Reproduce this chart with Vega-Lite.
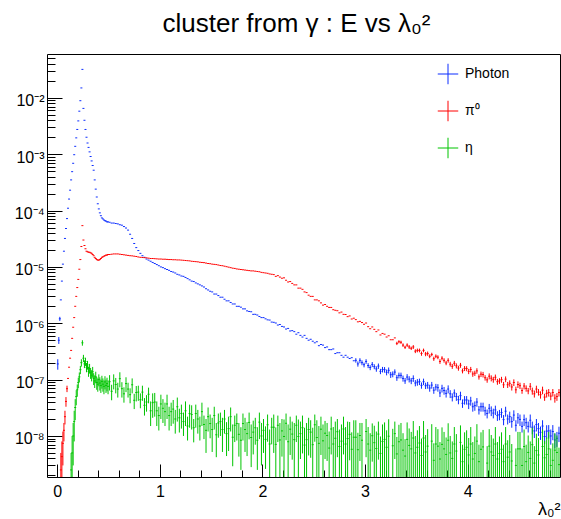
{
"$schema": "https://vega.github.io/schema/vega-lite/v6.json",
"width": 513, "height": 423,
"autosize": {"type": "none"},
"padding": {"left": 47, "top": 54, "right": 1, "bottom": 42},
"background": "#ffffff",
"view": {"stroke": "#000000", "strokeWidth": 1, "fill": "#ffffff"},
"title": {"text": "cluster from γ : E vs λ₀²", "font": "Liberation Sans", "fontSize": 26, "fontWeight": "normal", "color": "#000000", "anchor": "middle", "frame": "group", "offset": 21, "baseline": "alphabetic", "dx": -7, "dy": 25},
"datasets": {
"ph": [
{"x":0.005,"y":1.9e-7,"lo":1.5e-7,"hi":2.3e-7},{"x":0.015,"y":5.0e-7,"lo":4.3e-7,"hi":5.7e-7},{"x":0.025,"y":1.2e-6,"lo":1.1e-6,"hi":1.3e-6},{"x":0.035,"y":2.6e-6},{"x":0.045,"y":5.6e-6},{"x":0.055,"y":1.12e-5},{"x":0.065,"y":1.9e-5},{"x":0.075,"y":3.2e-5},{"x":0.085,"y":4.8e-5},{"x":0.095,"y":7.2e-5},{"x":0.105,"y":1.1e-4},{"x":0.115,"y":1.6e-4},{"x":0.125,"y":2.3e-4},{"x":0.135,"y":3.5e-4},{"x":0.145,"y":4.9e-4},{"x":0.155,"y":6.9e-4},{"x":0.165,"y":9.8e-4},{"x":0.175,"y":1.38e-3},{"x":0.185,"y":1.95e-3},{"x":0.195,"y":2.75e-3},{"x":0.205,"y":3.9e-3},{"x":0.215,"y":5.8e-3},{"x":0.225,"y":8.9e-3},{"x":0.235,"y":1.5e-2},{"x":0.245,"y":3.2e-2},{"x":0.255,"y":6.5e-3},{"x":0.265,"y":4.0e-3},{"x":0.275,"y":2.75e-3},{"x":0.285,"y":2.0e-3},{"x":0.295,"y":1.58e-3},{"x":0.305,"y":1.32e-3},{"x":0.315,"y":1.1e-3},{"x":0.325,"y":9.1e-4},{"x":0.335,"y":7.6e-4},{"x":0.345,"y":6.3e-4},{"x":0.355,"y":5.2e-4},{"x":0.365,"y":3.5e-4},{"x":0.375,"y":2.4e-4},{"x":0.385,"y":1.74e-4},{"x":0.395,"y":1.32e-4},{"x":0.405,"y":1.07e-4},{"x":0.415,"y":9.1e-5},{"x":0.425,"y":8.1e-5},{"x":0.435,"y":7.4e-5},{"x":0.445,"y":7.1e-5},{"x":0.455,"y":6.8e-5},{"x":0.465,"y":6.6e-5},{"x":0.475,"y":6.5e-5},{"x":0.485,"y":6.3e-5},{"x":0.495,"y":6.3e-5},
{"x":0.51,"y":6.2e-5},{"x":0.53,"y":6.0e-5},{"x":0.55,"y":6.0e-5},{"x":0.57,"y":5.9e-5},{"x":0.59,"y":5.8e-5},{"x":0.61,"y":5.6e-5},{"x":0.63,"y":5.5e-5},{"x":0.65,"y":5.2e-5},{"x":0.67,"y":4.9e-5},{"x":0.69,"y":4.5e-5},{"x":0.71,"y":3.8e-5},{"x":0.73,"y":3.2e-5},{"x":0.75,"y":2.6e-5},{"x":0.77,"y":2.2e-5},{"x":0.79,"y":1.95e-5},{"x":0.81,"y":1.74e-5},{"x":0.83,"y":1.58e-5},{"x":0.85,"y":1.48e-5},{"x":0.87,"y":1.38e-5},{"x":0.89,"y":1.32e-5},{"x":0.91,"y":1.26e-5},{"x":0.93,"y":1.2e-5},{"x":0.95,"y":1.15e-5},{"x":0.97,"y":1.1e-5},{"x":0.99,"y":1.05e-5},{"x":1.01,"y":1.0e-5},{"x":1.03,"y":9.7e-6},{"x":1.05,"y":9.3e-6},{"x":1.07,"y":9.0e-6},{"x":1.09,"y":8.7e-6},{"x":1.11,"y":8.3e-6},{"x":1.13,"y":8.1e-6},{"x":1.15,"y":7.8e-6},{"x":1.17,"y":7.4e-6},{"x":1.19,"y":7.2e-6},{"x":1.21,"y":6.9e-6},{"x":1.23,"y":6.8e-6},{"x":1.25,"y":6.5e-6},{"x":1.27,"y":6.2e-6},{"x":1.29,"y":5.9e-6},{"x":1.31,"y":5.6e-6},{"x":1.33,"y":5.5e-6},{"x":1.35,"y":5.2e-6},{"x":1.37,"y":5.0e-6},{"x":1.39,"y":4.8e-6},{"x":1.41,"y":4.6e-6},{"x":1.43,"y":4.4e-6},{"x":1.45,"y":4.1e-6},{"x":1.47,"y":3.9e-6},{"x":1.49,"y":3.7e-6},
{"x":1.51,"y":3.6e-6},{"x":1.53,"y":3.3e-6},{"x":1.55,"y":3.3e-6},{"x":1.57,"y":3.1e-6},{"x":1.59,"y":2.9e-6},{"x":1.61,"y":2.9e-6},{"x":1.63,"y":2.67e-6},{"x":1.65,"y":2.5e-6},{"x":1.67,"y":2.5e-6},{"x":1.69,"y":2.34e-6},{"x":1.71,"y":2.2e-6},{"x":1.73,"y":2.2e-6},{"x":1.75,"y":2.0e-6},{"x":1.77,"y":2.0e-6},{"x":1.79,"y":1.93e-6},{"x":1.81,"y":1.8e-6},{"x":1.83,"y":1.8e-6},{"x":1.85,"y":1.66e-6},{"x":1.87,"y":1.62e-6},{"x":1.89,"y":1.6e-6},{"x":1.91,"y":1.44e-6},{"x":1.93,"y":1.44e-6},{"x":1.95,"y":1.4e-6},{"x":1.97,"y":1.32e-6},{"x":1.99,"y":1.26e-6},{"x":2.01,"y":1.26e-6},{"x":2.03,"y":1.2e-6},{"x":2.05,"y":1.15e-6},{"x":2.07,"y":1.14e-6},{"x":2.09,"y":1.05e-6},{"x":2.11,"y":1.04e-6},{"x":2.13,"y":1.01e-6},{"x":2.15,"y":9.3e-7},{"x":2.17,"y":9.5e-7},{"x":2.19,"y":8.8e-7},{"x":2.21,"y":8.6e-7},{"x":2.23,"y":7.9e-7},{"x":2.25,"y":8.1e-7},{"x":2.27,"y":7.3e-7},{"x":2.29,"y":7.4e-7},
{"x":2.31,"y":7.1e-7},{"x":2.33,"y":6.4e-7},{"x":2.35,"y":6.8e-7},{"x":2.37,"y":6.1e-7},{"x":2.39,"y":5.7e-7},{"x":2.41,"y":6.1e-7},{"x":2.43,"y":5.4e-7},{"x":2.45,"y":5.0e-7},{"x":2.47,"y":5.2e-7},{"x":2.49,"y":4.8e-7},{"x":2.51,"y":4.5e-7},{"x":2.53,"y":4.7e-7},{"x":2.55,"y":4.0e-7},{"x":2.57,"y":4.2e-7},{"x":2.59,"y":4.1e-7},{"x":2.61,"y":3.7e-7},{"x":2.63,"y":3.8e-7},{"x":2.65,"y":3.4e-7},{"x":2.67,"y":3.4e-7},{"x":2.69,"y":3.5e-7},{"x":2.71,"y":2.9e-7},{"x":2.73,"y":3.0e-7},{"x":2.75,"y":3.0e-7},{"x":2.77,"y":2.7e-7},{"x":2.79,"y":2.5e-7},{"x":2.81,"y":2.7e-7},{"x":2.83,"y":2.5e-7},{"x":2.85,"y":2.37e-7},{"x":2.87,"y":2.45e-7},{"x":2.89,"y":2.16e-7},
{"x":2.91,"y":2.2e-7,"lo":2.0e-7,"hi":2.4e-7},{"x":2.93,"y":1.9e-7,"lo":1.7e-7,"hi":2.1e-7},{"x":2.95,"y":2.2e-7,"lo":1.95e-7,"hi":2.4e-7},{"x":2.97,"y":2.0e-7,"lo":1.8e-7,"hi":2.2e-7},{"x":2.99,"y":1.84e-7,"lo":1.65e-7,"hi":2.0e-7},{"x":3.01,"y":2.1e-7,"lo":1.9e-7,"hi":2.3e-7},{"x":3.03,"y":1.78e-7,"lo":1.6e-7,"hi":1.96e-7},{"x":3.05,"y":1.64e-7,"lo":1.47e-7,"hi":1.8e-7},{"x":3.07,"y":1.86e-7,"lo":1.67e-7,"hi":2.05e-7},{"x":3.09,"y":1.7e-7,"lo":1.53e-7,"hi":1.87e-7},{"x":3.11,"y":1.55e-7,"lo":1.38e-7,"hi":1.72e-7},{"x":3.13,"y":1.74e-7,"lo":1.55e-7,"hi":1.93e-7},{"x":3.15,"y":1.4e-7,"lo":1.25e-7,"hi":1.55e-7},{"x":3.17,"y":1.51e-7,"lo":1.34e-7,"hi":1.68e-7},{"x":3.19,"y":1.5e-7,"lo":1.33e-7,"hi":1.67e-7},{"x":3.21,"y":1.35e-7,"lo":1.19e-7,"hi":1.51e-7},{"x":3.23,"y":1.46e-7,"lo":1.28e-7,"hi":1.64e-7},{"x":3.25,"y":1.22e-7,"lo":1.07e-7,"hi":1.37e-7},{"x":3.27,"y":1.25e-7,"lo":1.1e-7,"hi":1.4e-7},{"x":3.29,"y":1.36e-7,"lo":1.2e-7,"hi":1.52e-7},{"x":3.31,"y":1.08e-7,"lo":9.5e-8,"hi":1.21e-7},{"x":3.33,"y":1.19e-7,"lo":1.05e-7,"hi":1.33e-7},{"x":3.35,"y":1.19e-7,"lo":1.05e-7,"hi":1.33e-7},{"x":3.37,"y":1.05e-7,"lo":9.2e-8,"hi":1.18e-7},{"x":3.39,"y":9.5e-8,"lo":8.4e-8,"hi":1.07e-7},{"x":3.41,"y":1.11e-7,"lo":9.7e-8,"hi":1.25e-7},{"x":3.43,"y":1.02e-7,"lo":8.9e-8,"hi":1.15e-7},{"x":3.45,"y":9.5e-8,"lo":8.3e-8,"hi":1.07e-7},{"x":3.47,"y":1.05e-7,"lo":9.1e-8,"hi":1.19e-7},{"x":3.49,"y":8.7e-8,"lo":7.6e-8,"hi":9.8e-8},{"x":3.51,"y":9.0e-8,"lo":7.8e-8,"hi":1.02e-7},{"x":3.53,"y":9.2e-8,"lo":8.0e-8,"hi":1.04e-7},{"x":3.55,"y":7.9e-8,"lo":6.9e-8,"hi":8.9e-8},{"x":3.57,"y":9.2e-8,"lo":8.0e-8,"hi":1.04e-7},{"x":3.59,"y":7.8e-8,"lo":6.8e-8,"hi":8.8e-8},{"x":3.61,"y":8.0e-8,"lo":6.9e-8,"hi":9.1e-8},{"x":3.63,"y":7.1e-8,"lo":6.1e-8,"hi":8.1e-8},{"x":3.65,"y":8.0e-8,"lo":6.9e-8,"hi":9.1e-8},{"x":3.67,"y":6.5e-8,"lo":5.6e-8,"hi":7.4e-8},{"x":3.69,"y":7.4e-8,"lo":6.4e-8,"hi":8.4e-8},
{"x":3.71,"y":7.2e-8,"lo":6.1e-8,"hi":8.3e-8},{"x":3.73,"y":5.8e-8,"lo":4.9e-8,"hi":6.7e-8},{"x":3.75,"y":7.0e-8,"lo":5.9e-8,"hi":8.1e-8},{"x":3.77,"y":6.4e-8,"lo":5.4e-8,"hi":7.4e-8},{"x":3.79,"y":5.7e-8,"lo":4.8e-8,"hi":6.6e-8},{"x":3.81,"y":6.8e-8,"lo":5.7e-8,"hi":7.9e-8},{"x":3.83,"y":5.6e-8,"lo":4.7e-8,"hi":6.5e-8},{"x":3.85,"y":4.9e-8,"lo":4.1e-8,"hi":5.7e-8},{"x":3.87,"y":5.8e-8,"lo":4.9e-8,"hi":6.7e-8},{"x":3.89,"y":5.0e-8,"lo":4.2e-8,"hi":5.8e-8},{"x":3.91,"y":4.4e-8,"lo":3.65e-8,"hi":5.15e-8},{"x":3.93,"y":5.2e-8,"lo":4.3e-8,"hi":6.1e-8},{"x":3.95,"y":3.8e-8,"lo":3.15e-8,"hi":4.45e-8},{"x":3.97,"y":4.35e-8,"lo":3.6e-8,"hi":5.1e-8},{"x":3.99,"y":4.35e-8,"lo":3.6e-8,"hi":5.1e-8},{"x":4.01,"y":3.7e-8,"lo":3.0e-8,"hi":4.4e-8},{"x":4.03,"y":4.2e-8,"lo":3.45e-8,"hi":4.95e-8},{"x":4.05,"y":3.3e-8,"lo":2.7e-8,"hi":3.9e-8},{"x":4.07,"y":3.45e-8,"lo":2.8e-8,"hi":4.1e-8},{"x":4.09,"y":4.0e-8,"lo":3.3e-8,"hi":4.7e-8},{"x":4.11,"y":2.9e-8,"lo":2.4e-8,"hi":3.4e-8},{"x":4.13,"y":3.3e-8,"lo":2.7e-8,"hi":3.9e-8},{"x":4.15,"y":3.3e-8,"lo":2.7e-8,"hi":3.9e-8},{"x":4.17,"y":2.8e-8,"lo":2.3e-8,"hi":3.3e-8},{"x":4.19,"y":2.5e-8,"lo":2.05e-8,"hi":2.95e-8},{"x":4.21,"y":3.1e-8,"lo":2.5e-8,"hi":3.7e-8},{"x":4.23,"y":2.8e-8,"lo":2.25e-8,"hi":3.35e-8},{"x":4.25,"y":2.55e-8,"lo":2.05e-8,"hi":3.05e-8},{"x":4.27,"y":2.9e-8,"lo":2.35e-8,"hi":3.45e-8},{"x":4.29,"y":2.3e-8,"lo":1.85e-8,"hi":2.75e-8},
{"x":4.31,"y":2.4e-8,"lo":1.9e-8,"hi":2.9e-8},{"x":4.33,"y":2.6e-8,"lo":2.1e-8,"hi":3.1e-8},{"x":4.35,"y":1.95e-8,"lo":1.55e-8,"hi":2.35e-8},{"x":4.37,"y":2.75e-8,"lo":2.2e-8,"hi":3.3e-8},{"x":4.39,"y":2.0e-8,"lo":1.6e-8,"hi":2.4e-8},{"x":4.41,"y":2.2e-8,"lo":1.7e-8,"hi":2.7e-8},{"x":4.43,"y":1.8e-8,"lo":1.4e-8,"hi":2.2e-8},{"x":4.45,"y":2.35e-8,"lo":1.85e-8,"hi":2.85e-8},{"x":4.47,"y":1.55e-8,"lo":1.2e-8,"hi":1.9e-8},{"x":4.49,"y":2.1e-8,"lo":1.65e-8,"hi":2.55e-8},{"x":4.51,"y":1.97e-8,"lo":1.5e-8,"hi":2.4e-8},{"x":4.53,"y":1.48e-8,"lo":1.15e-8,"hi":1.8e-8},{"x":4.55,"y":1.95e-8,"lo":1.5e-8,"hi":2.4e-8},{"x":4.57,"y":1.72e-8,"lo":1.32e-8,"hi":2.1e-8},{"x":4.59,"y":1.48e-8,"lo":1.15e-8,"hi":1.8e-8},{"x":4.61,"y":1.9e-8,"lo":1.4e-8,"hi":2.4e-8},{"x":4.63,"y":1.43e-8,"lo":1.07e-8,"hi":1.8e-8},{"x":4.65,"y":1.23e-8,"lo":9.2e-9,"hi":1.54e-8},{"x":4.67,"y":1.6e-8,"lo":1.2e-8,"hi":2.0e-8},{"x":4.69,"y":1.35e-8,"lo":1.0e-8,"hi":1.7e-8},{"x":4.71,"y":1.16e-8,"lo":8.5e-9,"hi":1.47e-8},{"x":4.73,"y":1.5e-8,"lo":1.1e-8,"hi":1.9e-8},{"x":4.75,"y":9.8e-9,"lo":7.2e-9,"hi":1.24e-8},{"x":4.77,"y":1.22e-8,"lo":8.9e-9,"hi":1.55e-8},{"x":4.79,"y":1.23e-8,"lo":9.0e-9,"hi":1.56e-8},{"x":4.81,"y":1.0e-8,"lo":7.0e-9,"hi":1.3e-8},{"x":4.83,"y":1.2e-8,"lo":8.4e-9,"hi":1.56e-8},{"x":4.85,"y":8.5e-9,"lo":6.0e-9,"hi":1.1e-8},{"x":4.87,"y":9.1e-9,"lo":6.4e-9,"hi":1.18e-8},{"x":4.89,"y":1.12e-8,"lo":7.8e-9,"hi":1.46e-8}
],
"pi": [
{"x":0.035,"y":2.5e-9,"lo":1e-10,"hi":5e-9},{"x":0.045,"y":4.3e-9,"lo":1e-10,"hi":8e-9},{"x":0.055,"y":7.4e-9,"lo":3e-9,"hi":1.2e-8},{"x":0.065,"y":1.26e-8,"lo":8e-9,"hi":1.7e-8},{"x":0.075,"y":2.2e-8,"lo":1.6e-8,"hi":2.8e-8},{"x":0.085,"y":4.1e-8,"lo":3.3e-8,"hi":4.9e-8},{"x":0.095,"y":6.9e-8,"lo":6.0e-8,"hi":7.8e-8},{"x":0.105,"y":1.05e-7},{"x":0.115,"y":1.66e-7},{"x":0.125,"y":2.4e-7},{"x":0.135,"y":3.3e-7},{"x":0.145,"y":5.4e-7},{"x":0.155,"y":8.5e-7},{"x":0.165,"y":1.26e-6},{"x":0.175,"y":2.0e-6},{"x":0.185,"y":3.0e-6},{"x":0.195,"y":4.3e-6},{"x":0.205,"y":6.0e-6},{"x":0.215,"y":9.1e-6},{"x":0.225,"y":1.35e-5},{"x":0.235,"y":2.3e-5},{"x":0.245,"y":5.4e-5},{"x":0.255,"y":3.0e-5},{"x":0.265,"y":2.4e-5},{"x":0.275,"y":2.1e-5},{"x":0.285,"y":1.9e-5},{"x":0.295,"y":1.86e-5},{"x":0.305,"y":1.82e-5},{"x":0.315,"y":1.82e-5},{"x":0.325,"y":1.78e-5},{"x":0.335,"y":1.74e-5},{"x":0.345,"y":1.66e-5},{"x":0.355,"y":1.58e-5},{"x":0.365,"y":1.48e-5},{"x":0.375,"y":1.41e-5},{"x":0.385,"y":1.35e-5},{"x":0.395,"y":1.32e-5},{"x":0.405,"y":1.32e-5},{"x":0.415,"y":1.35e-5},{"x":0.425,"y":1.41e-5},{"x":0.435,"y":1.48e-5},{"x":0.445,"y":1.51e-5},{"x":0.455,"y":1.55e-5},{"x":0.465,"y":1.58e-5},{"x":0.475,"y":1.62e-5},{"x":0.485,"y":1.62e-5},{"x":0.495,"y":1.66e-5},
{"x":0.51,"y":1.66e-5},{"x":0.53,"y":1.68e-5},{"x":0.55,"y":1.7e-5},{"x":0.57,"y":1.7e-5},{"x":0.59,"y":1.7e-5},{"x":0.61,"y":1.68e-5},{"x":0.63,"y":1.66e-5},{"x":0.65,"y":1.64e-5},{"x":0.67,"y":1.62e-5},{"x":0.69,"y":1.6e-5},{"x":0.71,"y":1.58e-5},{"x":0.73,"y":1.57e-5},{"x":0.75,"y":1.55e-5},{"x":0.77,"y":1.53e-5},{"x":0.79,"y":1.5e-5},{"x":0.81,"y":1.48e-5},{"x":0.83,"y":1.47e-5},{"x":0.85,"y":1.46e-5},{"x":0.87,"y":1.45e-5},{"x":0.89,"y":1.43e-5},{"x":0.91,"y":1.41e-5},{"x":0.93,"y":1.41e-5},{"x":0.95,"y":1.4e-5},{"x":0.97,"y":1.39e-5},{"x":0.99,"y":1.38e-5},{"x":1.01,"y":1.38e-5},{"x":1.03,"y":1.37e-5},{"x":1.05,"y":1.37e-5},{"x":1.07,"y":1.36e-5},{"x":1.09,"y":1.35e-5},{"x":1.11,"y":1.35e-5},{"x":1.13,"y":1.34e-5},{"x":1.15,"y":1.34e-5},{"x":1.17,"y":1.33e-5},{"x":1.19,"y":1.33e-5},{"x":1.21,"y":1.32e-5},{"x":1.23,"y":1.31e-5},{"x":1.25,"y":1.3e-5},{"x":1.27,"y":1.29e-5},{"x":1.29,"y":1.28e-5},{"x":1.31,"y":1.26e-5},{"x":1.33,"y":1.25e-5},{"x":1.35,"y":1.24e-5},{"x":1.37,"y":1.23e-5},{"x":1.39,"y":1.21e-5},{"x":1.41,"y":1.2e-5},{"x":1.43,"y":1.19e-5},{"x":1.45,"y":1.17e-5},{"x":1.47,"y":1.15e-5},{"x":1.49,"y":1.14e-5},{"x":1.51,"y":1.12e-5},{"x":1.53,"y":1.11e-5},{"x":1.55,"y":1.1e-5},{"x":1.57,"y":1.08e-5},{"x":1.59,"y":1.06e-5},{"x":1.61,"y":1.05e-5},{"x":1.63,"y":1.03e-5},{"x":1.65,"y":1.01e-5},{"x":1.67,"y":9.9e-6},{"x":1.69,"y":9.7e-6},{"x":1.71,"y":9.5e-6},{"x":1.73,"y":9.4e-6},{"x":1.75,"y":9.2e-6},{"x":1.77,"y":9.1e-6},{"x":1.79,"y":9.0e-6},{"x":1.81,"y":8.9e-6},{"x":1.83,"y":8.8e-6},{"x":1.85,"y":8.7e-6},{"x":1.87,"y":8.6e-6},{"x":1.89,"y":8.5e-6},{"x":1.91,"y":8.5e-6},{"x":1.93,"y":8.4e-6},{"x":1.95,"y":8.3e-6},{"x":1.97,"y":8.2e-6},{"x":1.99,"y":8.0e-6},{"x":2.01,"y":7.9e-6},{"x":2.03,"y":7.8e-6},{"x":2.05,"y":7.7e-6},{"x":2.07,"y":7.5e-6},{"x":2.09,"y":7.4e-6},
{"x":2.11,"y":7.3e-6},{"x":2.13,"y":6.8e-6},{"x":2.15,"y":7.0e-6},{"x":2.17,"y":6.6e-6},{"x":2.19,"y":6.3e-6},{"x":2.21,"y":6.4e-6},{"x":2.23,"y":5.8e-6},{"x":2.25,"y":5.4e-6},{"x":2.27,"y":5.5e-6},{"x":2.29,"y":5.1e-6},{"x":2.31,"y":4.8e-6},{"x":2.33,"y":4.8e-6},{"x":2.35,"y":4.2e-6},{"x":2.37,"y":4.2e-6},{"x":2.39,"y":4.0e-6},{"x":2.41,"y":3.6e-6},{"x":2.43,"y":3.5e-6},{"x":2.45,"y":3.15e-6},{"x":2.47,"y":3.0e-6},{"x":2.49,"y":3.0e-6},{"x":2.51,"y":2.6e-6},{"x":2.53,"y":2.6e-6},{"x":2.55,"y":2.5e-6},{"x":2.57,"y":2.3e-6},{"x":2.59,"y":2.1e-6},{"x":2.61,"y":2.15e-6},{"x":2.63,"y":2.0e-6},{"x":2.65,"y":1.91e-6},{"x":2.67,"y":1.91e-6},{"x":2.69,"y":1.74e-6},{"x":2.71,"y":1.7e-6},{"x":2.73,"y":1.67e-6},{"x":2.75,"y":1.53e-6},{"x":2.77,"y":1.58e-6},{"x":2.79,"y":1.44e-6},{"x":2.81,"y":1.43e-6},{"x":2.83,"y":1.31e-6},{"x":2.85,"y":1.35e-6},{"x":2.87,"y":1.19e-6},{"x":2.89,"y":1.23e-6},{"x":2.91,"y":1.16e-6},{"x":2.93,"y":1.06e-6},{"x":2.95,"y":1.08e-6},{"x":2.97,"y":1.03e-6},{"x":2.99,"y":9.6e-7},
{"x":3.01,"y":1.01e-6},{"x":3.03,"y":8.7e-7},{"x":3.05,"y":8.0e-7},{"x":3.07,"y":8.6e-7},{"x":3.09,"y":7.8e-7},{"x":3.11,"y":7.1e-7},{"x":3.13,"y":7.6e-7},{"x":3.15,"y":6.2e-7},{"x":3.17,"y":6.6e-7},{"x":3.19,"y":6.4e-7},{"x":3.21,"y":5.7e-7},{"x":3.23,"y":6.0e-7},{"x":3.25,"y":5.1e-7},{"x":3.27,"y":5.1e-7},{"x":3.29,"y":5.5e-7},
{"x":3.31,"y":4.4e-7,"lo":4.1e-7,"hi":4.7e-7},{"x":3.33,"y":4.7e-7,"lo":4.4e-7,"hi":5.0e-7},{"x":3.35,"y":4.6e-7,"lo":4.3e-7,"hi":4.9e-7},{"x":3.37,"y":4.1e-7,"lo":3.8e-7,"hi":4.4e-7},{"x":3.39,"y":3.75e-7,"lo":3.5e-7,"hi":4.0e-7},{"x":3.41,"y":4.1e-7,"lo":3.8e-7,"hi":4.4e-7},{"x":3.43,"y":3.8e-7,"lo":3.5e-7,"hi":4.1e-7},{"x":3.45,"y":3.6e-7,"lo":3.35e-7,"hi":3.85e-7},{"x":3.47,"y":3.8e-7,"lo":3.5e-7,"hi":4.1e-7},{"x":3.49,"y":3.2e-7,"lo":2.95e-7,"hi":3.45e-7},{"x":3.51,"y":3.3e-7,"lo":3.05e-7,"hi":3.55e-7},{"x":3.53,"y":3.3e-7,"lo":3.05e-7,"hi":3.55e-7},{"x":3.55,"y":2.9e-7,"lo":2.65e-7,"hi":3.15e-7},{"x":3.57,"y":3.3e-7,"lo":3.05e-7,"hi":3.55e-7},{"x":3.59,"y":2.85e-7,"lo":2.6e-7,"hi":3.1e-7},{"x":3.61,"y":2.9e-7,"lo":2.65e-7,"hi":3.15e-7},{"x":3.63,"y":2.6e-7,"lo":2.4e-7,"hi":2.8e-7},{"x":3.65,"y":2.8e-7,"lo":2.6e-7,"hi":3.0e-7},{"x":3.67,"y":2.35e-7,"lo":2.15e-7,"hi":2.55e-7},{"x":3.69,"y":2.6e-7,"lo":2.4e-7,"hi":2.8e-7},
{"x":3.71,"y":2.5e-7,"lo":2.3e-7,"hi":2.7e-7},{"x":3.73,"y":2.1e-7,"lo":1.9e-7,"hi":2.3e-7},{"x":3.75,"y":2.4e-7,"lo":2.2e-7,"hi":2.6e-7},{"x":3.77,"y":2.2e-7,"lo":2.0e-7,"hi":2.4e-7},{"x":3.79,"y":1.97e-7,"lo":1.8e-7,"hi":2.15e-7},{"x":3.81,"y":2.2e-7,"lo":2.0e-7,"hi":2.4e-7},{"x":3.83,"y":1.88e-7,"lo":1.7e-7,"hi":2.07e-7},{"x":3.85,"y":1.72e-7,"lo":1.55e-7,"hi":1.9e-7},{"x":3.87,"y":1.95e-7,"lo":1.75e-7,"hi":2.15e-7},{"x":3.89,"y":1.76e-7,"lo":1.58e-7,"hi":1.94e-7},{"x":3.91,"y":1.6e-7,"lo":1.44e-7,"hi":1.76e-7},{"x":3.93,"y":1.8e-7,"lo":1.62e-7,"hi":1.98e-7},{"x":3.95,"y":1.43e-7,"lo":1.29e-7,"hi":1.57e-7},{"x":3.97,"y":1.58e-7,"lo":1.42e-7,"hi":1.74e-7},{"x":3.99,"y":1.57e-7,"lo":1.41e-7,"hi":1.73e-7},{"x":4.01,"y":1.4e-7,"lo":1.25e-7,"hi":1.55e-7},{"x":4.03,"y":1.51e-7,"lo":1.34e-7,"hi":1.68e-7},{"x":4.05,"y":1.26e-7,"lo":1.12e-7,"hi":1.4e-7},{"x":4.07,"y":1.3e-7,"lo":1.16e-7,"hi":1.44e-7},{"x":4.09,"y":1.43e-7,"lo":1.27e-7,"hi":1.59e-7},{"x":4.11,"y":1.12e-7,"lo":1.0e-7,"hi":1.24e-7},{"x":4.13,"y":1.25e-7,"lo":1.11e-7,"hi":1.39e-7},{"x":4.15,"y":1.23e-7,"lo":1.09e-7,"hi":1.37e-7},{"x":4.17,"y":1.08e-7,"lo":9.6e-8,"hi":1.2e-7},{"x":4.19,"y":9.9e-8,"lo":8.8e-8,"hi":1.1e-7},{"x":4.21,"y":1.15e-7,"lo":1.01e-7,"hi":1.29e-7},{"x":4.23,"y":1.06e-7,"lo":9.3e-8,"hi":1.19e-7},{"x":4.25,"y":1.0e-7,"lo":8.8e-8,"hi":1.12e-7},{"x":4.27,"y":1.1e-7,"lo":9.7e-8,"hi":1.23e-7},{"x":4.29,"y":9.2e-8,"lo":8.1e-8,"hi":1.03e-7},
{"x":4.31,"y":9.5e-8,"lo":8.4e-8,"hi":1.06e-7},{"x":4.33,"y":1.0e-7,"lo":8.8e-8,"hi":1.12e-7},{"x":4.35,"y":8.1e-8,"lo":7.1e-8,"hi":9.1e-8},{"x":4.37,"y":1.02e-7,"lo":9.0e-8,"hi":1.14e-7},{"x":4.39,"y":8.1e-8,"lo":7.1e-8,"hi":9.1e-8},{"x":4.41,"y":8.6e-8,"lo":7.5e-8,"hi":9.7e-8},{"x":4.43,"y":7.4e-8,"lo":6.4e-8,"hi":8.4e-8},{"x":4.45,"y":8.9e-8,"lo":7.7e-8,"hi":1.01e-7},{"x":4.47,"y":6.6e-8,"lo":5.7e-8,"hi":7.5e-8},{"x":4.49,"y":8.2e-8,"lo":7.1e-8,"hi":9.3e-8},{"x":4.51,"y":7.8e-8,"lo":6.8e-8,"hi":8.8e-8},{"x":4.53,"y":6.4e-8,"lo":5.6e-8,"hi":7.2e-8},{"x":4.55,"y":7.7e-8,"lo":6.7e-8,"hi":8.7e-8},{"x":4.57,"y":7.0e-8,"lo":6.1e-8,"hi":7.9e-8},{"x":4.59,"y":6.3e-8,"lo":5.5e-8,"hi":7.1e-8},{"x":4.61,"y":7.6e-8,"lo":6.5e-8,"hi":8.7e-8},{"x":4.63,"y":6.3e-8,"lo":5.4e-8,"hi":7.2e-8},{"x":4.65,"y":5.6e-8,"lo":4.8e-8,"hi":6.4e-8},{"x":4.67,"y":6.8e-8,"lo":5.8e-8,"hi":7.8e-8},{"x":4.69,"y":6.0e-8,"lo":5.2e-8,"hi":6.8e-8},{"x":4.71,"y":5.4e-8,"lo":4.6e-8,"hi":6.2e-8},{"x":4.73,"y":6.5e-8,"lo":5.5e-8,"hi":7.5e-8},{"x":4.75,"y":4.9e-8,"lo":4.2e-8,"hi":5.6e-8},{"x":4.77,"y":5.7e-8,"lo":4.8e-8,"hi":6.6e-8},{"x":4.79,"y":5.9e-8,"lo":5.0e-8,"hi":6.8e-8},{"x":4.81,"y":5.1e-8,"lo":4.3e-8,"hi":5.9e-8},{"x":4.83,"y":5.9e-8,"lo":5.0e-8,"hi":6.8e-8},{"x":4.85,"y":4.7e-8,"lo":3.9e-8,"hi":5.5e-8},{"x":4.87,"y":5.0e-8,"lo":4.2e-8,"hi":5.8e-8},{"x":4.89,"y":5.9e-8,"lo":5.0e-8,"hi":6.8e-8}
],
"et": [
{"x":0.135,"y":2.5e-9,"lo":1e-10,"hi":5e-9},{"x":0.145,"y":5.0e-9,"lo":1e-10,"hi":1.0e-8},{"x":0.155,"y":1.0e-8,"lo":3e-9,"hi":1.7e-8},{"x":0.165,"y":1.8e-8,"lo":8e-9,"hi":2.8e-8},{"x":0.175,"y":3.2e-8,"lo":1.9e-8,"hi":4.5e-8},{"x":0.185,"y":5.0e-8,"lo":3.5e-8,"hi":6.5e-8},{"x":0.195,"y":6.6e-8,"lo":5.0e-8,"hi":8.2e-8},{"x":0.205,"y":8.9e-8,"lo":7.0e-8,"hi":1.08e-7},{"x":0.215,"y":1.12e-7,"lo":9e-8,"hi":1.34e-7},{"x":0.225,"y":1.5e-7,"lo":1.25e-7,"hi":1.75e-7},{"x":0.235,"y":2.0e-7,"lo":1.7e-7,"hi":2.3e-7},{"x":0.245,"y":4.5e-7,"lo":4.0e-7,"hi":5.0e-7},{"x":0.255,"y":2.4e-7,"lo":2.05e-7,"hi":2.75e-7},{"x":0.265,"y":1.9e-7,"lo":1.6e-7,"hi":2.2e-7},{"x":0.275,"y":2.1e-7,"lo":1.75e-7,"hi":2.45e-7},{"x":0.285,"y":1.66e-7,"lo":1.35e-7,"hi":1.97e-7},{"x":0.295,"y":1.82e-7,"lo":1.5e-7,"hi":2.15e-7},{"x":0.305,"y":1.41e-7,"lo":1.12e-7,"hi":1.7e-7},{"x":0.315,"y":1.58e-7,"lo":1.28e-7,"hi":1.9e-7},{"x":0.325,"y":1.32e-7,"lo":1.03e-7,"hi":1.6e-7},{"x":0.335,"y":1.2e-7,"lo":9.3e-8,"hi":1.47e-7},{"x":0.345,"y":1.38e-7,"lo":1.08e-7,"hi":1.68e-7},{"x":0.355,"y":1.05e-7,"lo":8.0e-8,"hi":1.3e-7},{"x":0.365,"y":9.5e-8,"lo":7.1e-8,"hi":1.19e-7},{"x":0.375,"y":1.12e-7,"lo":8.6e-8,"hi":1.38e-7},{"x":0.385,"y":8.9e-8,"lo":6.6e-8,"hi":1.12e-7},{"x":0.395,"y":8.3e-8,"lo":6.1e-8,"hi":1.05e-7},{"x":0.405,"y":1.0e-7,"lo":7.6e-8,"hi":1.24e-7},{"x":0.415,"y":8.7e-8,"lo":6.4e-8,"hi":1.1e-7},{"x":0.425,"y":7.9e-8,"lo":5.8e-8,"hi":1.0e-7},{"x":0.435,"y":9.3e-8,"lo":6.9e-8,"hi":1.17e-7},{"x":0.445,"y":8.3e-8,"lo":6.1e-8,"hi":1.05e-7},{"x":0.455,"y":7.6e-8,"lo":5.5e-8,"hi":9.7e-8},{"x":0.465,"y":9.1e-8,"lo":6.7e-8,"hi":1.15e-7},{"x":0.475,"y":7.9e-8,"lo":5.8e-8,"hi":1.0e-7},{"x":0.485,"y":8.5e-8,"lo":6.2e-8,"hi":1.08e-7},{"x":0.495,"y":7.6e-8,"lo":5.5e-8,"hi":9.7e-8},
{"x":0.51,"y":9.2e-8,"lo":6.4e-8,"hi":1.2e-7},{"x":0.53,"y":6.2e-8,"lo":4.3e-8,"hi":8.1e-8},{"x":0.55,"y":9.5e-8,"lo":6.7e-8,"hi":1.24e-7},{"x":0.57,"y":8.2e-8,"lo":5.7e-8,"hi":1.07e-7},{"x":0.59,"y":6.8e-8,"lo":4.8e-8,"hi":8.8e-8},{"x":0.61,"y":1.04e-7,"lo":7.3e-8,"hi":1.35e-7},{"x":0.63,"y":6.9e-8,"lo":4.8e-8,"hi":9.0e-8},{"x":0.65,"y":5.6e-8,"lo":3.9e-8,"hi":7.3e-8},{"x":0.67,"y":8.5e-8,"lo":6.0e-8,"hi":1.1e-7},{"x":0.69,"y":6.8e-8,"lo":4.8e-8,"hi":8.8e-8},{"x":0.71,"y":5.4e-8,"lo":3.8e-8,"hi":7.0e-8},{"x":0.73,"y":8.1e-8,"lo":5.7e-8,"hi":1.05e-7},{"x":0.75,"y":4.3e-8,"lo":3.0e-8,"hi":5.6e-8},{"x":0.77,"y":5.9e-8,"lo":4.1e-8,"hi":7.7e-8},{"x":0.79,"y":6.0e-8,"lo":4.2e-8,"hi":7.8e-8},{"x":0.81,"y":4.4e-8,"lo":3.1e-8,"hi":5.7e-8},{"x":0.83,"y":6.0e-8,"lo":4.2e-8,"hi":7.8e-8},{"x":0.85,"y":3.5e-8,"lo":2.3e-8,"hi":4.7e-8},{"x":0.87,"y":4.0e-8,"lo":2.7e-8,"hi":5.3e-8},{"x":0.89,"y":5.5e-8,"lo":3.8e-8,"hi":7.2e-8},{"x":0.91,"y":2.8e-8,"lo":1.5e-8,"hi":4.1e-8},{"x":0.93,"y":3.9e-8,"lo":2.1e-8,"hi":5.7e-8},{"x":0.95,"y":4.0e-8,"lo":2.2e-8,"hi":5.8e-8},{"x":0.97,"y":2.8e-8,"lo":1.5e-8,"hi":4.1e-8},{"x":0.99,"y":2.3e-8,"lo":1.25e-8,"hi":3.3e-8},{"x":1.01,"y":3.7e-8,"lo":2.0e-8,"hi":5.4e-8},{"x":1.03,"y":3.1e-8,"lo":1.7e-8,"hi":4.5e-8},{"x":1.05,"y":2.7e-8,"lo":1.5e-8,"hi":3.9e-8},{"x":1.07,"y":3.7e-8,"lo":2.0e-8,"hi":5.4e-8},{"x":1.09,"y":2.3e-8,"lo":1.25e-8,"hi":3.3e-8},{"x":1.11,"y":2.7e-8,"lo":1.5e-8,"hi":3.9e-8},{"x":1.13,"y":3.0e-8,"lo":1.65e-8,"hi":4.35e-8},{"x":1.15,"y":2.0e-8,"lo":1.1e-8,"hi":2.9e-8},{"x":1.17,"y":3.3e-8,"lo":1.8e-8,"hi":4.8e-8},{"x":1.19,"y":2.1e-8,"lo":1.15e-8,"hi":3.05e-8},{"x":1.21,"y":2.5e-8,"lo":1.35e-8,"hi":3.6e-8},{"x":1.23,"y":1.8e-8,"lo":1.0e-8,"hi":2.6e-8},{"x":1.25,"y":2.8e-8,"lo":1.5e-8,"hi":4.1e-8},{"x":1.27,"y":1.5e-8,"lo":8.3e-9,"hi":2.2e-8},{"x":1.29,"y":2.5e-8,"lo":1.4e-8,"hi":3.6e-8},
{"x":1.31,"y":2.4e-8,"lo":1.3e-8,"hi":3.5e-8},{"x":1.33,"y":1.4e-8,"lo":7.7e-9,"hi":2.0e-8},{"x":1.35,"y":2.5e-8,"lo":1.4e-8,"hi":3.6e-8},{"x":1.37,"y":2.0e-8,"lo":1.1e-8,"hi":2.9e-8},{"x":1.39,"y":1.5e-8,"lo":8.3e-9,"hi":2.2e-8},{"x":1.41,"y":2.7e-8,"lo":1.5e-8,"hi":3.9e-8},{"x":1.43,"y":1.6e-8,"lo":8.8e-9,"hi":2.3e-8},{"x":1.45,"y":1.26e-8,"lo":5.0e-9,"hi":2.0e-8},{"x":1.47,"y":2.2e-8,"lo":1.2e-8,"hi":3.2e-8},{"x":1.49,"y":1.66e-8,"lo":9.1e-9,"hi":2.4e-8},{"x":1.51,"y":1.3e-8,"lo":5.2e-9,"hi":2.1e-8},{"x":1.53,"y":2.3e-8,"lo":1.3e-8,"hi":3.3e-8},{"x":1.55,"y":1.05e-8,"lo":4.2e-9,"hi":1.7e-8},{"x":1.57,"y":1.7e-8,"lo":9.3e-9,"hi":2.5e-8},{"x":1.59,"y":1.8e-8,"lo":1.0e-8,"hi":2.6e-8},{"x":1.61,"y":1.3e-8,"lo":5.2e-9,"hi":2.1e-8},{"x":1.63,"y":2.0e-8,"lo":1.1e-8,"hi":2.9e-8},{"x":1.65,"y":1.1e-8,"lo":4.4e-9,"hi":1.76e-8},{"x":1.67,"y":1.35e-8,"lo":5.4e-9,"hi":2.2e-8},{"x":1.69,"y":2.2e-8,"lo":1.2e-8,"hi":3.2e-8},{"x":1.71,"y":9.5e-9,"lo":2.9e-9,"hi":1.6e-8},{"x":1.73,"y":1.55e-8,"lo":7.8e-9,"hi":2.3e-8},{"x":1.75,"y":1.66e-8,"lo":8.3e-9,"hi":2.5e-8},{"x":1.77,"y":1.07e-8,"lo":4.3e-9,"hi":1.7e-8},{"x":1.79,"y":8.4e-9,"lo":2.5e-9,"hi":1.43e-8},{"x":1.81,"y":1.66e-8,"lo":8.3e-9,"hi":2.5e-8},{"x":1.83,"y":1.3e-8,"lo":5.2e-9,"hi":2.1e-8},{"x":1.85,"y":1.1e-8,"lo":4.4e-9,"hi":1.76e-8},{"x":1.87,"y":1.74e-8,"lo":8.7e-9,"hi":2.6e-8},{"x":1.89,"y":9.4e-9,"lo":2.8e-9,"hi":1.6e-8},{"x":1.91,"y":1.17e-8,"lo":4.7e-9,"hi":1.87e-8},{"x":1.93,"y":1.4e-8,"lo":7e-9,"hi":2.1e-8},{"x":1.95,"y":8.4e-9,"lo":2.5e-9,"hi":1.43e-8},{"x":1.97,"y":1.76e-8,"lo":8.8e-9,"hi":2.6e-8},{"x":1.99,"y":1.0e-8,"lo":3e-9,"hi":1.7e-8},{"x":2.01,"y":1.26e-8,"lo":5e-9,"hi":2.0e-8},{"x":2.03,"y":8.7e-9,"lo":2.6e-9,"hi":1.48e-8},{"x":2.05,"y":1.58e-8,"lo":7.9e-9,"hi":2.4e-8},{"x":2.07,"y":7.2e-9,"lo":1.4e-9,"hi":1.3e-8},{"x":2.09,"y":1.43e-8,"lo":7.1e-9,"hi":2.1e-8},
{"x":2.11,"y":1.43e-8,"lo":5.0e-9,"hi":2.4e-8},{"x":2.13,"y":7.1e-9,"lo":1e-10,"hi":1.42e-8},{"x":2.15,"y":1.55e-8,"lo":7.8e-9,"hi":2.3e-8},{"x":2.17,"y":8.5e-9,"lo":1e-10,"hi":1.7e-8},{"x":2.19,"y":1.23e-8,"lo":4.3e-9,"hi":2.0e-8},{"x":2.21,"y":9.8e-9,"lo":1e-10,"hi":1.96e-8},{"x":2.23,"y":1.68e-8,"lo":8.4e-9,"hi":2.5e-8},{"x":2.25,"y":7.9e-9,"lo":1e-10,"hi":1.6e-8},{"x":2.27,"y":1.32e-8,"lo":4.6e-9,"hi":2.2e-8},{"x":2.29,"y":1.08e-8,"lo":3.8e-9,"hi":1.8e-8},{"x":2.31,"y":8.6e-9,"lo":1e-10,"hi":1.7e-8},{"x":2.33,"y":1.55e-8,"lo":7.8e-9,"hi":2.3e-8},{"x":2.35,"y":9.8e-9,"lo":1e-10,"hi":1.96e-8},{"x":2.37,"y":1.1e-8,"lo":3.9e-9,"hi":1.8e-8},{"x":2.39,"y":1.4e-8,"lo":4.9e-9,"hi":2.3e-8},{"x":2.41,"y":6.9e-9,"lo":1e-10,"hi":1.4e-8},{"x":2.43,"y":8.6e-9,"lo":1e-10,"hi":1.7e-8},{"x":2.45,"y":1.3e-8,"lo":4.5e-9,"hi":2.1e-8},{"x":2.47,"y":1.17e-8,"lo":4.1e-9,"hi":1.9e-8},{"x":2.49,"y":7.0e-9,"lo":1e-10,"hi":1.4e-8},{"x":2.51,"y":1.58e-8,"lo":7.9e-9,"hi":2.4e-8},{"x":2.53,"y":9.4e-9,"lo":1e-10,"hi":1.9e-8},{"x":2.55,"y":7.4e-9,"lo":1e-10,"hi":1.5e-8},{"x":2.57,"y":1.32e-8,"lo":4.6e-9,"hi":2.2e-8},{"x":2.59,"y":8.2e-9,"lo":1e-10,"hi":1.6e-8},{"x":2.61,"y":1.12e-8,"lo":3.9e-9,"hi":1.85e-8},{"x":2.63,"y":1.02e-8,"lo":3.6e-9,"hi":1.7e-8},{"x":2.65,"y":6.1e-9,"lo":1e-10,"hi":1.2e-8},{"x":2.67,"y":1.33e-8,"lo":4.7e-9,"hi":2.2e-8},{"x":2.69,"y":7.2e-9,"lo":1e-10,"hi":1.44e-8},{"x":2.71,"y":9.1e-9,"lo":1e-10,"hi":1.8e-8},{"x":2.73,"y":1.19e-8,"lo":4.2e-9,"hi":2.0e-8},{"x":2.75,"y":6.5e-9,"lo":1e-10,"hi":1.3e-8},{"x":2.77,"y":8.1e-9,"lo":1e-10,"hi":1.6e-8},{"x":2.79,"y":1.33e-8,"lo":4.7e-9,"hi":2.2e-8},{"x":2.81,"y":7.2e-9,"lo":1e-10,"hi":1.44e-8},{"x":2.83,"y":9.0e-9,"lo":1e-10,"hi":1.8e-8},{"x":2.85,"y":1.07e-8,"lo":3.7e-9,"hi":1.77e-8},{"x":2.87,"y":5.8e-9,"lo":1e-10,"hi":1.16e-8},{"x":2.89,"y":9.5e-9,"lo":1e-10,"hi":1.9e-8},
{"x":2.91,"y":9.5e-9,"lo":1e-10,"hi":1.9e-8},{"x":2.93,"y":5.7e-9,"lo":1e-10,"hi":1.14e-8},{"x":2.95,"y":1.02e-8,"lo":3.6e-9,"hi":1.7e-8},{"x":2.97,"y":8.4e-9,"lo":1e-10,"hi":1.7e-8},{"x":3.01,"y":1.2e-8,"lo":4.2e-9,"hi":2.0e-8},{"x":3.03,"y":7.2e-9,"lo":1e-10,"hi":1.44e-8},{"x":3.05,"y":5.6e-9,"lo":1e-10,"hi":1.12e-8},{"x":3.07,"y":1.01e-8,"lo":3.5e-9,"hi":1.67e-8},{"x":3.09,"y":7.6e-9,"lo":1e-10,"hi":1.52e-8},{"x":3.11,"y":6.0e-9,"lo":1e-10,"hi":1.2e-8},{"x":3.13,"y":1.08e-8,"lo":3.8e-9,"hi":1.8e-8},{"x":3.15,"y":4.9e-9,"lo":1e-10,"hi":9.8e-9},{"x":3.17,"y":8.0e-9,"lo":1e-10,"hi":1.6e-8},{"x":3.19,"y":8.7e-9,"lo":1e-10,"hi":1.74e-8},{"x":3.21,"y":6.3e-9,"lo":1e-10,"hi":1.26e-8},{"x":3.23,"y":9.9e-9,"lo":1e-10,"hi":1.98e-8},{"x":3.27,"y":6.7e-9,"lo":1e-10,"hi":1.34e-8},{"x":3.29,"y":1.1e-8,"lo":3.9e-9,"hi":1.8e-8},{"x":3.31,"y":4.8e-9,"lo":1e-10,"hi":9.6e-9},{"x":3.33,"y":7.9e-9,"lo":1e-10,"hi":1.58e-8},{"x":3.35,"y":8.5e-9,"lo":1e-10,"hi":1.7e-8},{"x":3.37,"y":5.6e-9,"lo":1e-10,"hi":1.12e-8},{"x":3.39,"y":4.4e-9,"lo":1e-10,"hi":8.8e-9},{"x":3.41,"y":8.7e-9,"lo":1e-10,"hi":1.74e-8},{"x":3.43,"y":6.8e-9,"lo":1e-10,"hi":1.36e-8},{"x":3.45,"y":5.9e-9,"lo":1e-10,"hi":1.18e-8},{"x":3.47,"y":9.2e-9,"lo":1e-10,"hi":1.84e-8},{"x":3.49,"y":5.0e-9,"lo":1e-10,"hi":1.0e-8},{"x":3.51,"y":6.3e-9,"lo":1e-10,"hi":1.26e-8},{"x":3.53,"y":7.5e-9,"lo":1e-10,"hi":1.5e-8},{"x":3.55,"y":4.5e-9,"lo":1e-10,"hi":9e-9},{"x":3.57,"y":9.2e-9,"lo":1e-10,"hi":1.84e-8},{"x":3.59,"y":5.2e-9,"lo":1e-10,"hi":1.04e-8},{"x":3.61,"y":6.6e-9,"lo":1e-10,"hi":1.32e-8},{"x":3.65,"y":8.1e-9,"lo":1e-10,"hi":1.62e-8},{"x":3.67,"y":3.7e-9,"lo":1e-10,"hi":7.4e-9},{"x":3.69,"y":7.2e-9,"lo":1e-10,"hi":1.44e-8},
{"x":3.71,"y":6.6e-9,"lo":1e-10,"hi":1.32e-8},{"x":3.73,"y":3.9e-9,"lo":1e-10,"hi":7.8e-9},{"x":3.75,"y":7.1e-9,"lo":1e-10,"hi":1.42e-8},{"x":3.77,"y":5.9e-9,"lo":1e-10,"hi":1.18e-8},{"x":3.79,"y":4.7e-9,"lo":1e-10,"hi":9.4e-9},{"x":3.81,"y":8.4e-9,"lo":1e-10,"hi":1.68e-8},{"x":3.83,"y":5.0e-9,"lo":1e-10,"hi":1.0e-8},{"x":3.85,"y":4.0e-9,"lo":1e-10,"hi":8e-9},{"x":3.87,"y":7.2e-9,"lo":1e-10,"hi":1.44e-8},{"x":3.89,"y":5.4e-9,"lo":1e-10,"hi":1.08e-8},{"x":3.93,"y":7.7e-9,"lo":1e-10,"hi":1.54e-8},{"x":3.95,"y":3.5e-9,"lo":1e-10,"hi":7e-9},{"x":3.97,"y":5.8e-9,"lo":1e-10,"hi":1.16e-8},{"x":3.99,"y":6.3e-9,"lo":1e-10,"hi":1.26e-8},{"x":4.01,"y":4.6e-9,"lo":1e-10,"hi":9.2e-9},{"x":4.03,"y":7.2e-9,"lo":1e-10,"hi":1.44e-8},{"x":4.05,"y":3.9e-9,"lo":1e-10,"hi":7.8e-9},{"x":4.07,"y":4.9e-9,"lo":1e-10,"hi":9.8e-9},{"x":4.09,"y":8.1e-9,"lo":1e-10,"hi":1.62e-8},{"x":4.11,"y":3.5e-9,"lo":1e-10,"hi":7e-9},{"x":4.13,"y":5.8e-9,"lo":1e-10,"hi":1.16e-8},{"x":4.15,"y":6.4e-9,"lo":1e-10,"hi":1.28e-8},{"x":4.19,"y":3.3e-9,"lo":1e-10,"hi":6.6e-9},{"x":4.21,"y":6.6e-9,"lo":1e-10,"hi":1.32e-8},{"x":4.23,"y":5.2e-9,"lo":1e-10,"hi":1.04e-8},{"x":4.25,"y":4.5e-9,"lo":1e-10,"hi":9e-9},{"x":4.27,"y":7.2e-9,"lo":1e-10,"hi":1.44e-8},{"x":4.29,"y":3.9e-9,"lo":1e-10,"hi":7.8e-9},{"x":4.31,"y":4.9e-9,"lo":1e-10,"hi":9.8e-9},{"x":4.33,"y":5.8e-9,"lo":1e-10,"hi":1.16e-8},{"x":4.35,"y":3.5e-9,"lo":1e-10,"hi":7e-9},{"x":4.37,"y":7.2e-9,"lo":1e-10,"hi":1.44e-8},{"x":4.39,"y":4.2e-9,"lo":1e-10,"hi":8.4e-9},{"x":4.41,"y":5.2e-9,"lo":1e-10,"hi":1.04e-8},{"x":4.43,"y":3.6e-9,"lo":1e-10,"hi":7.2e-9},{"x":4.47,"y":3.0e-9,"lo":1e-10,"hi":6e-9},{"x":4.49,"y":5.9e-9,"lo":1e-10,"hi":1.18e-8},
{"x":4.51,"y":5.9e-9,"lo":1e-10,"hi":1.18e-8},{"x":4.53,"y":3.0e-9,"lo":1e-10,"hi":6e-9},{"x":4.55,"y":6.5e-9,"lo":1e-10,"hi":1.3e-8},{"x":4.57,"y":3.5e-9,"lo":1e-10,"hi":7e-9},{"x":4.59,"y":5.1e-9,"lo":1e-10,"hi":1.02e-8},{"x":4.61,"y":4.0e-9,"lo":1e-10,"hi":8e-9},{"x":4.63,"y":7.0e-9,"lo":1e-10,"hi":1.4e-8},{"x":4.65,"y":3.3e-9,"lo":1e-10,"hi":6.6e-9},{"x":4.67,"y":5.5e-9,"lo":1e-10,"hi":1.1e-8},{"x":4.69,"y":4.6e-9,"lo":1e-10,"hi":9.2e-9},{"x":4.73,"y":6.5e-9,"lo":1e-10,"hi":1.3e-8},{"x":4.75,"y":4.1e-9,"lo":1e-10,"hi":8.2e-9},{"x":4.77,"y":4.7e-9,"lo":1e-10,"hi":9.4e-9},{"x":4.79,"y":5.9e-9,"lo":1e-10,"hi":1.18e-8},{"x":4.81,"y":3.0e-9,"lo":1e-10,"hi":6e-9},{"x":4.83,"y":3.7e-9,"lo":1e-10,"hi":7.4e-9},{"x":4.85,"y":5.6e-9,"lo":1e-10,"hi":1.12e-8},{"x":4.87,"y":5.1e-9,"lo":1e-10,"hi":1.02e-8},{"x":4.89,"y":3.1e-9,"lo":1e-10,"hi":6.2e-9}
]
},
"layer": [
{
"data": {"name": "ph"},
"mark": {"type": "rule", "strokeWidth": 1, "clip": true},
"encoding": {
"x": {"field": "x", "type": "quantitative", "scale": {"domain": [-0.1, 4.9], "nice": false, "zero": false},
 "axis": {"orient": "bottom", "values": [0, 1, 2, 3, 4], "format": "d", "ticks": false, "domain": false, "grid": false, "labelFont": "Liberation Sans", "labelFontSize": 16, "labelColor": "#000000", "labelPadding": 6, "labelFlush": false, "title": "λ₀²", "titleFont": "Liberation Sans", "titleFontSize": 18, "titleFontWeight": "normal", "titleColor": "#000000", "titleAnchor": "end", "titleAlign": "right", "titlePadding": 1}},
"y": {"field": "lo", "type": "quantitative", "scale": {"type": "log", "domain": [1.87e-9, 0.06], "nice": false},
 "axis": {"orient": "left", "values": [1e-8, 1e-7, 1e-6, 1e-5, 1e-4, 1e-3, 1e-2], "ticks": false, "domain": false, "grid": false, "labelFont": "Liberation Sans", "labelFontSize": 16, "labelColor": "#000000", "labelPadding": 3, "labelOffset": 3, "labelExpr": "'10' + ['⁻²','⁻³','⁻⁴','⁻⁵','⁻⁶','⁻⁷','⁻⁸'][round(-log(datum.value)/LN10) - 2]", "title": null}},
"y2": {"field": "hi"},
"color": {"datum": "Photon", "type": "nominal", "scale": {"domain": ["Photon", "π⁰", "η"], "range": ["#0a2cff", "#ff0000", "#00c400"]},
 "legend": {"orient": "none", "legendX": 390, "legendY": 9, "title": null, "padding": 0, "symbolType": "M-1,0H1M0,-1V1", "symbolSize": 420, "symbolStrokeWidth": 1, "symbolFillColor": "transparent", "labelFont": "Liberation Sans", "labelFontSize": 14, "labelColor": "#000000", "labelOffset": 6, "rowPadding": 11, "labelLimit": 200,
  "encode": {"symbols": {"update": {"stroke": {"scale": "color", "field": "value"}, "fill": {"value": "transparent"}, "strokeWidth": {"value": 1}, "opacity": {"value": 1}}}}}}
}
},
{
"data": {"name": "ph"},
"mark": {"type": "tick", "orient": "horizontal", "size": 2, "thickness": 1, "clip": true, "opacity": 1},
"encoding": {
"x": {"field": "x", "type": "quantitative", "scale": {"domain": [-0.1, 4.9], "nice": false, "zero": false},
 "axis": {"orient": "bottom", "values": [0, 1, 2, 3, 4], "labels": false, "domain": false, "grid": false, "ticks": true, "tickSize": -13, "tickColor": "#000000", "tickWidth": 1, "title": null}},
"y": {"field": "y", "type": "quantitative", "scale": {"type": "log", "domain": [1.87e-9, 0.06], "nice": false},
 "axis": {"orient": "left", "values": [1e-8, 1e-7, 1e-6, 1e-5, 1e-4, 1e-3, 1e-2], "labels": false, "domain": false, "grid": false, "ticks": true, "tickSize": -15, "tickColor": "#000000", "tickWidth": 1, "title": null}},
"color": {"datum": "Photon", "type": "nominal"}
}
},
{
"data": {"name": "pi"},
"mark": {"type": "rule", "strokeWidth": 1, "clip": true},
"encoding": {
"x": {"field": "x", "type": "quantitative", "scale": {"domain": [-0.1, 4.9], "nice": false, "zero": false},
 "axis": {"orient": "bottom", "values": [0.2,0.4,0.6,0.8,1.2,1.4,1.6,1.8,2.2,2.4,2.6,2.8,3.2,3.4,3.6,3.8,4.2,4.4,4.6,4.8], "labels": false, "domain": false, "grid": false, "ticks": true, "tickSize": -7, "tickColor": "#000000", "tickWidth": 1, "title": null}},
"y": {"field": "lo", "type": "quantitative", "scale": {"type": "log", "domain": [1.87e-9, 0.06], "nice": false},
 "axis": {"orient": "left", "values": [2e-9,3e-9,4e-9,5e-9,6e-9,7e-9,8e-9,9e-9,2e-8,3e-8,4e-8,5e-8,6e-8,7e-8,8e-8,9e-8,2e-7,3e-7,4e-7,5e-7,6e-7,7e-7,8e-7,9e-7,2e-6,3e-6,4e-6,5e-6,6e-6,7e-6,8e-6,9e-6,2e-5,3e-5,4e-5,5e-5,6e-5,7e-5,8e-5,9e-5,2e-4,3e-4,4e-4,5e-4,6e-4,7e-4,8e-4,9e-4,2e-3,3e-3,4e-3,5e-3,6e-3,7e-3,8e-3,9e-3,2e-2,3e-2,4e-2,5e-2], "labels": false, "domain": false, "grid": false, "ticks": true, "tickSize": -8, "tickColor": "#000000", "tickWidth": 1, "title": null}},
"y2": {"field": "hi"},
"color": {"datum": "π⁰", "type": "nominal"}
}
},
{
"data": {"name": "pi"},
"mark": {"type": "tick", "orient": "horizontal", "size": 2, "thickness": 1, "clip": true, "opacity": 1},
"encoding": {
"x": {"field": "x", "type": "quantitative", "scale": {"domain": [-0.1, 4.9], "nice": false, "zero": false}, "axis": null},
"y": {"field": "y", "type": "quantitative", "scale": {"type": "log", "domain": [1.87e-9, 0.06], "nice": false}, "axis": null},
"color": {"datum": "π⁰", "type": "nominal"}
}
},
{
"data": {"name": "et"},
"mark": {"type": "rule", "strokeWidth": 1, "clip": true},
"encoding": {
"x": {"field": "x", "type": "quantitative", "scale": {"domain": [-0.1, 4.9], "nice": false, "zero": false}, "axis": null},
"y": {"field": "lo", "type": "quantitative", "scale": {"type": "log", "domain": [1.87e-9, 0.06], "nice": false}, "axis": null},
"y2": {"field": "hi"},
"color": {"datum": "η", "type": "nominal"}
}
},
{
"data": {"name": "et"},
"mark": {"type": "tick", "orient": "horizontal", "size": 2, "thickness": 1, "clip": true, "opacity": 1},
"encoding": {
"x": {"field": "x", "type": "quantitative", "scale": {"domain": [-0.1, 4.9], "nice": false, "zero": false}, "axis": null},
"y": {"field": "y", "type": "quantitative", "scale": {"type": "log", "domain": [1.87e-9, 0.06], "nice": false}, "axis": null},
"color": {"datum": "η", "type": "nominal"}
}
}
],
"resolve": {"axis": {"x": "independent", "y": "independent"}},
"config": {"font": "Liberation Sans", "tick": {"bandSize": 2}}
}
